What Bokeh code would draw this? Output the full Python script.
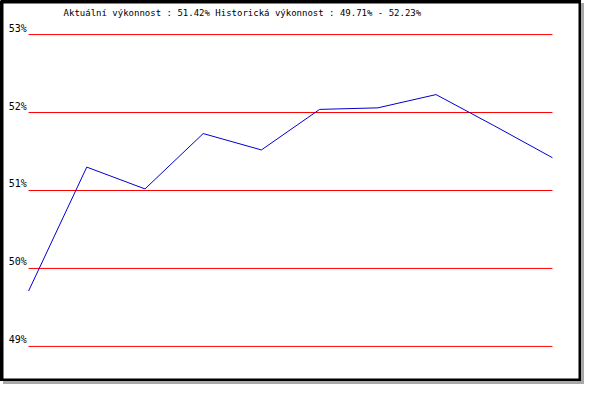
from bokeh.plotting import figure
from bokeh.embed import file_html
from bokeh.resources import INLINE
from bokeh.core.properties import value

# ---- data ----
periods = list(range(10))
performance = [49.71, 51.30, 51.02, 51.73, 51.52, 52.04, 52.06, 52.23, 51.83, 51.42]
tick_values = [49, 50, 51, 52, 53]
tick_labels = ["49%", "50%", "51%", "52%", "53%"]
title_text = "Aktuální výkonnost : 51.42%  Historická výkonnost : 49.71% - 52.23%"

FONT = value("DejaVu Sans Mono")

p = figure(width=581, height=381, output_backend="svg", toolbar_location=None,
           x_range=(-0.465, 9.499), y_range=(48.55, 53.424),
           min_border_left=1, min_border_top=1, min_border_right=0, min_border_bottom=0)
p.axis.visible = False
p.grid.visible = False
p.background_fill_color = "white"
p.border_fill_color = "white"
p.outline_line_color = "black"
p.outline_line_width = 4
p.styles = {"box-shadow": "3px 3px 0px 0px #a8a8a8"}

# horizontal reference lines at tick values
p.segment(x0=[periods[0]] * len(tick_values), x1=[periods[-1]] * len(tick_values),
          y0=tick_values, y1=tick_values, line_color="#ff0000", line_width=1)

# tick labels
p.text(x=[periods[0] - 0.03] * len(tick_values), y=tick_values, text=tick_labels,
       text_font=FONT, text_font_size="10px", text_align="right",
       text_baseline="bottom", y_offset=-1, text_color="black")

# series line
p.line(periods, performance, line_color="#0000cc", line_width=1)

# title
p.text(x=[3.72], y=[53.28], text=[title_text], text_font=FONT, text_font_size="9px",
       text_align="center", text_baseline="middle", text_color="black")

open("out.html", "w").write(file_html(p, INLINE))
